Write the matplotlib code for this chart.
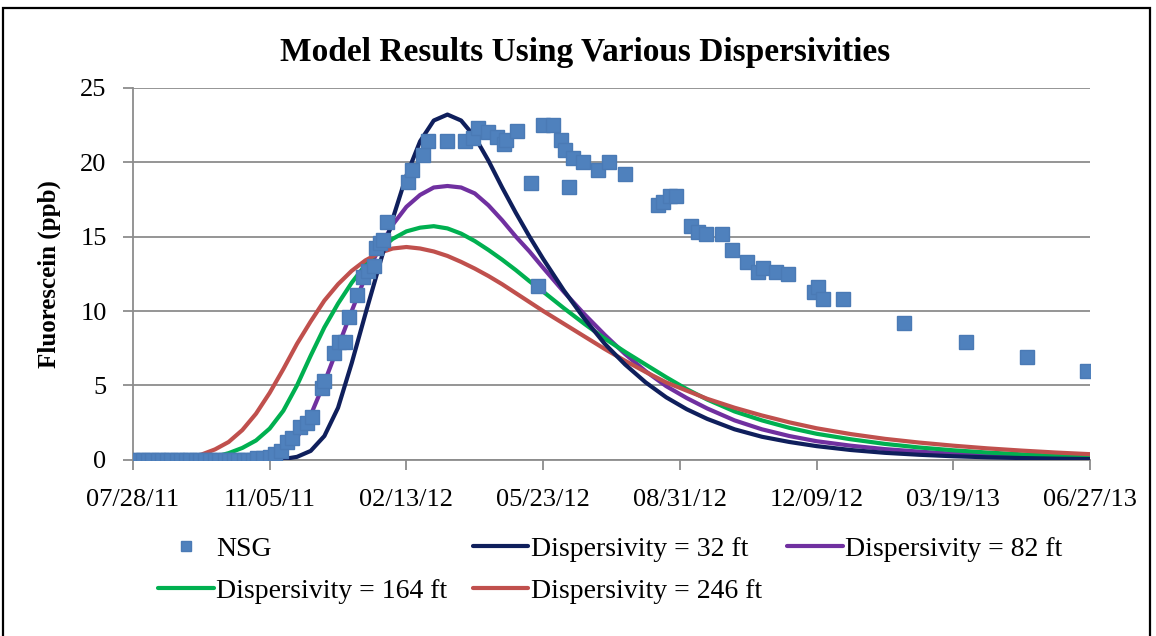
import numpy as np
import pandas as pd
import matplotlib
matplotlib.use("Agg")
import matplotlib.pyplot as plt
import matplotlib.dates as mdates
from matplotlib.patches import Rectangle

plt.rcParams['font.family'] = ['Liberation Serif', 'DejaVu Serif']

start = pd.Timestamp("2011-07-28")

# NSG measurements (days after 07/28/11, ppb)
nsg_day = [0, 4, 7, 11, 14, 18, 21, 25, 28, 32, 35, 39, 42, 46, 49, 53, 56, 60,
           63, 67, 70, 74, 77, 81, 84, 88, 91, 95,
           100, 104, 108, 113, 116, 122, 127, 131, 138, 140, 147, 151, 155, 158,
           164, 168, 172, 176, 178, 181, 183, 186,
           201, 204, 212, 216, 230, 243, 249, 252, 260, 266, 271, 273, 281, 291,
           296, 300, 307, 313, 316, 319, 322, 329, 340, 348, 360,
           384, 388, 393, 397, 408, 413, 419, 431, 438, 449, 457, 461, 470, 479,
           498, 501, 505, 519, 564, 609, 654, 698]
nsg_val = [0, 0, 0, 0, 0, 0, 0, 0, 0, 0, 0, 0, 0, 0, 0, 0, 0, 0,
           0, 0, 0, 0, 0, 0, 0, 0, 0.1, 0.1,
           0.2, 0.4, 0.6, 1.2, 1.5, 2.2, 2.5, 2.9, 4.8, 5.3, 7.2, 7.9, 7.9, 9.6,
           11.1, 12.3, 12.7, 13.0, 14.2, 14.6, 14.8, 16.0,
           18.7, 19.5, 20.5, 21.4, 21.4, 21.4, 21.6, 22.3, 22.0, 21.7, 21.2, 21.5, 22.1, 18.6,
           11.7, 22.5, 22.5, 21.5, 20.8, 18.3, 20.3, 20.0, 19.5, 20.0, 19.2,
           17.1, 17.3, 17.7, 17.7, 15.7, 15.3, 15.2, 15.2, 14.1, 13.3, 12.6, 12.9, 12.6, 12.5,
           11.3, 11.6, 10.8, 10.8, 9.2, 7.9, 6.9, 6.0]

# model output, same day grid for all runs
model_day = [0, 20, 30, 40, 50, 60, 70, 80, 90, 100, 110, 120, 130, 140, 150, 160,
             170, 180, 190, 200, 210, 220, 230, 240, 250, 260, 270, 280, 290, 300,
             315, 330, 345, 360, 375, 390, 405, 420, 440, 460, 480, 500, 525, 550,
             575, 600, 625, 650, 675, 700]
disp_32 = [0, 0, 0, 0, 0, 0, 0, 0, 0, 0, 0.05, 0.2, 0.6, 1.6, 3.5, 6.5,
           9.8, 13.0, 16.2, 19.1, 21.4, 22.8, 23.2, 22.8, 21.7, 20.1, 18.3, 16.6, 15.0, 13.5,
           11.4, 9.5, 7.8, 6.4, 5.2, 4.2, 3.4, 2.75, 2.05, 1.55, 1.2, 0.92, 0.66, 0.47,
           0.34, 0.24, 0.17, 0.12, 0.08, 0.05]
disp_82 = [0, 0, 0, 0, 0, 0, 0, 0, 0.05, 0.2, 0.6, 1.5, 3.0, 5.2, 7.6, 10.0,
           12.3, 14.2, 15.8, 17.0, 17.8, 18.3, 18.4, 18.3, 17.9, 17.1, 16.1, 15.0, 14.0, 12.9,
           11.3, 9.8, 8.4, 7.1, 5.95, 4.95, 4.15, 3.45, 2.65, 2.05, 1.6, 1.25, 0.95, 0.72,
           0.55, 0.41, 0.31, 0.23, 0.17, 0.12]
disp_164 = [0, 0, 0, 0, 0.05, 0.2, 0.45, 0.8, 1.3, 2.1, 3.3, 5.0, 7.0, 8.9, 10.5, 11.9,
            13.1, 14.1, 14.85, 15.35, 15.6, 15.7, 15.55, 15.2, 14.7, 14.1, 13.45, 12.75, 12.0, 11.3,
            10.2, 9.15, 8.15, 7.25, 6.4, 5.55, 4.75, 4.05, 3.25, 2.65, 2.15, 1.75, 1.38, 1.07,
            0.83, 0.64, 0.49, 0.37, 0.27, 0.19]
disp_246 = [0, 0, 0.05, 0.15, 0.35, 0.7, 1.2, 2.0, 3.1, 4.5, 6.1, 7.8, 9.3, 10.7, 11.8, 12.7,
            13.4, 13.9, 14.2, 14.3, 14.2, 14.0, 13.7, 13.3, 12.85, 12.35, 11.8, 11.2, 10.6, 10.0,
            9.15, 8.3, 7.45, 6.65, 5.9, 5.2, 4.65, 4.1, 3.5, 2.98, 2.52, 2.12, 1.73, 1.41,
            1.16, 0.95, 0.77, 0.62, 0.49, 0.38]

tick_day = [0, 100, 200, 300, 400, 500, 600, 700]


def to_dates(days):
    return start + pd.to_timedelta(np.asarray(days), unit="D")


fig = plt.figure(figsize=(11.56, 6.36), dpi=100)
ax = fig.add_axes([0.115, 0.277, 0.828, 0.585])

ax.plot(to_dates(nsg_day), nsg_val, ls="none", marker="s", ms=9.5,
        color="#4f81bd", mec="#4a7ab5", label="NSG", zorder=5)
curve_style = dict(lw=3, solid_joinstyle="round", solid_capstyle="round")
ax.plot(to_dates(model_day), disp_32, color="#0f1f5c",
        label="Dispersivity = 32 ft", zorder=4, **curve_style)
ax.plot(to_dates(model_day), disp_82, color="#7030a0",
        label="Dispersivity = 82 ft", zorder=3, **curve_style)
ax.plot(to_dates(model_day), disp_164, color="#00b050",
        label="Dispersivity = 164 ft", zorder=3, **curve_style)
ax.plot(to_dates(model_day), disp_246, color="#c0504d",
        label="Dispersivity = 246 ft", zorder=3, **curve_style)

ax.set_xlim(to_dates([0])[0], to_dates([700])[0])
ax.set_ylim(0, 25)
ax.set_xticks(to_dates(tick_day))
ax.xaxis.set_major_formatter(mdates.DateFormatter("%m/%d/%y"))
ax.set_yticks(range(0, 26, 5))

ax.grid(axis="y", color="#8c8c8c", lw=1.3)
ax.set_axisbelow(True)
for side in ("top", "right"):
    ax.spines[side].set_visible(False)
for side in ("left", "bottom"):
    ax.spines[side].set_color("#8c8c8c")
    ax.spines[side].set_linewidth(1.3)
ax.tick_params(axis="both", colors="#8c8c8c", width=1.3, length=7,
               labelcolor="black", labelsize=19)
ax.tick_params(axis="x", pad=14)
ax.tick_params(axis="y", pad=12)

ax.set_ylabel("Fluorescein (ppb)", fontsize=18, fontweight="bold", labelpad=14)
fig.text(0.506, 0.918, "Model Results Using Various Dispersivities",
         ha="center", va="center", fontsize=24, fontweight="bold")

# legend laid out row by row like the spreadsheet version
h, l = ax.get_legend_handles_labels()
order = [0, 3, 1, 4, 2]
fig.legend([h[i] for i in order], [l[i] for i in order], ncol=3,
           loc="center", bbox_to_anchor=(0.528, 0.104), frameon=False,
           fontsize=20, handlelength=2.0, handletextpad=0.1,
           columnspacing=0.9, labelspacing=0.6, markerscale=0.8)

fig.patches.append(Rectangle((0.003, -0.1), 0.992, 1.087, transform=fig.transFigure,
                             fill=False, ec="black", lw=1.6))

fig.savefig("out.png", dpi=100)
